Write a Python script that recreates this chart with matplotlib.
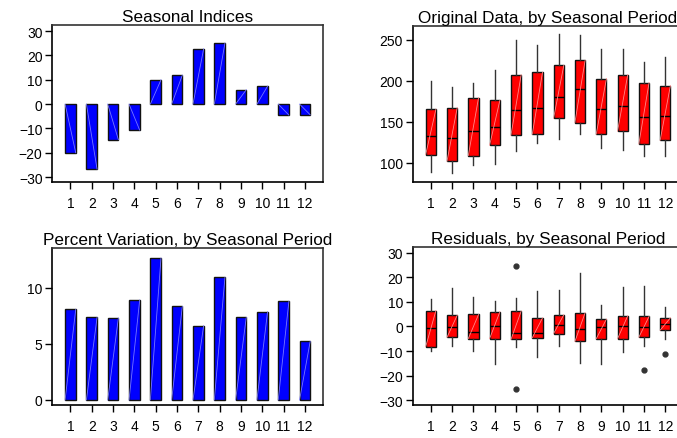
import matplotlib
matplotlib.use("Agg")
import matplotlib.pyplot as plt

plt.rcParams['font.family'] = ['Liberation Sans', 'DejaVu Sans']

periods = list(range(1, 13))

# seasonal indices
seasonal_idx = [-20.0, -26.7, -14.6, -10.7, 10.0, 11.9, 22.7, 25.1, 5.9, 7.4, -4.5, -4.4]

# percent variation
pct_var = [8.07, 7.35, 7.30, 8.90, 12.63, 8.33, 6.61, 10.91, 7.35, 7.86, 8.78, 5.22]

# original data box stats
orig_lo = [88.6, 87.8, 97.5, 98.7, 114.0, 124.3, 129.2, 135.6, 117.8, 116.1, 108.9, 108.9]
orig_q1 = [110.1, 102.0, 108.9, 121.5, 133.6, 134.8, 154.3, 149.0, 134.8, 138.5, 123.1, 127.5]
orig_med = [133.2, 130.0, 139.3, 143.8, 164.4, 166.5, 179.9, 190.0, 166.1, 168.9, 156.3, 156.7]
orig_q3 = [165.3, 167.3, 179.4, 176.2, 207.4, 210.3, 218.8, 224.9, 202.6, 207.4, 197.7, 194.0]
orig_hi = [200.1, 192.8, 196.9, 213.1, 249.6, 243.1, 256.5, 255.7, 238.2, 238.2, 222.8, 228.5]

# residual box stats
res_lo = [-9.9, -7.9, -10.2, -15.1, -8.4, -12.5, -8.0, -14.7, -15.5, -10.3, -7.9, -4.9]
res_q1 = [-8.2, -4.4, -4.9, -4.9, -5.3, -4.6, -2.9, -6.1, -5.0, -5.0, -4.4, -1.5]
res_med = [-0.8, -0.4, -2.2, 0.4, -2.6, -2.6, 0.8, -1.2, -0.4, 0.0, -0.3, 1.2]
res_q3 = [6.5, 4.6, 4.9, 6.0, 6.3, 3.5, 4.8, 5.6, 3.0, 4.4, 4.1, 3.5]
res_hi = [11.4, 15.9, 12.2, 10.6, 11.7, 14.4, 14.8, 21.8, 8.6, 16.1, 16.7, 7.8]
res_fliers = [[], [], [], [], [24.6, -25.3], [], [], [], [], [], [-17.6], [-11.2]]

W, H = 677, 439
fig = plt.figure(figsize=(W / 100, H / 100), dpi=100)


def px_axes(left, right, top, bottom):
    return fig.add_axes([left / W, 1 - bottom / H, (right - left) / W, (bottom - top) / H])


def style(ax, title):
    for s in ax.spines.values():
        s.set_color('#333333')
        s.set_linewidth(1.2)
    ax.spines['left'].set_color('black')
    ax.spines['bottom'].set_color('black')
    ax.tick_params(direction='out', length=5, width=1, labelsize=10, pad=2)
    ax.tick_params(axis='x', pad=5)
    ax.set_xticks(periods)
    ax.set_xlim(0.15, 12.85)
    ax.set_title(title, fontsize=12.3, pad=3)


def bar_panel(ax, vals):
    w = 0.5
    ax.bar(periods, vals, width=w, color='#0000ff', edgecolor='#111111', linewidth=1, zorder=2)
    for p, v in zip(periods, vals):
        ax.plot([p - w / 2, p + w / 2], [0, v], color='#7777ff', lw=0.6, zorder=3)


def box_panel(ax, lo, q1, med, q3, hi, fliers):
    stats = []
    for i in range(len(periods)):
        stats.append({'whislo': lo[i], 'q1': q1[i], 'med': med[i], 'q3': q3[i],
                      'whishi': hi[i], 'fliers': fliers[i]})
    ax.bxp(stats, positions=periods, widths=0.48, patch_artist=True, showcaps=False,
           boxprops=dict(facecolor='#ff0000', edgecolor='#111111', linewidth=1),
           medianprops=dict(color='black', linewidth=1),
           whiskerprops=dict(color='#333333', linewidth=1),
           flierprops=dict(marker='o', markersize=3.5, markerfacecolor='#333333',
                           markeredgecolor='#333333'))
    w = 0.48
    for p, a, b in zip(periods, q1, q3):
        ax.plot([p - w / 2, p + w / 2], [a, b], color='#ff8888', lw=0.6, zorder=3)


ax1 = px_axes(52.3, 323, 26, 183)
bar_panel(ax1, seasonal_idx)
ax1.set_ylim(-32, 32.5)
ax1.set_yticks([-30, -20, -10, 0, 10, 20, 30])
style(ax1, 'Seasonal Indices')

ax2 = px_axes(412.7, 683.4, 26.7, 182.7)
box_panel(ax2, orig_lo, orig_q1, orig_med, orig_q3, orig_hi, [[]] * 12)
ax2.set_ylim(77, 267)
ax2.set_yticks([100, 150, 200, 250])
style(ax2, 'Original Data, by Seasonal Period')

ax3 = px_axes(52.3, 323, 249.3, 405.7)
bar_panel(ax3, pct_var)
ax3.set_ylim(-0.42, 13.5)
ax3.set_yticks([0, 5, 10])
style(ax3, 'Percent Variation, by Seasonal Period')

ax4 = px_axes(412.7, 683.4, 248.3, 405.7)
box_panel(ax4, res_lo, res_q1, res_med, res_q3, res_hi, res_fliers)
ax4.set_ylim(-31.9, 32.3)
ax4.set_yticks([-30, -20, -10, 0, 10, 20, 30])
style(ax4, 'Residuals, by Seasonal Period')

fig.savefig('out.png', dpi=100)
